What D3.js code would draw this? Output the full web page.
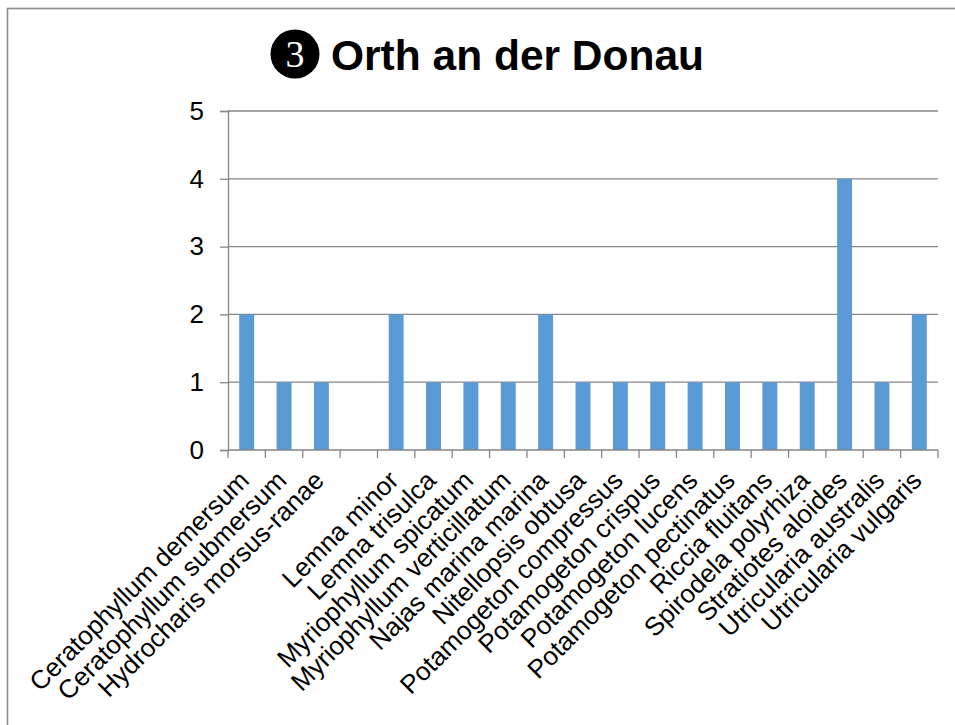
<!DOCTYPE html>
<html>
<head>
<meta charset="utf-8">
<script src="https://cdn.jsdelivr.net/npm/d3@7"></script>
<style>
  html, body { margin: 0; padding: 0; background: #fff; }
  svg { display: block; font-family: "Liberation Sans", Arial, sans-serif; }
</style>
</head>
<body>
<svg id="chart" width="955" height="725"></svg>
<script>
// Species recorded at Orth an der Donau (one empty slot keeps the gap in the series)
const species = [
  "Ceratophyllum demersum", "Ceratophyllum submersum", "Hydrocharis morsus-ranae", "",
  "Lemna minor", "Lemna trisulca", "Myriophyllum spicatum", "Myriophyllum verticillatum",
  "Najas marina marina", "Nitellopsis obtusa", "Potamogeton compressus", "Potamogeton crispus",
  "Potamogeton lucens", "Potamogeton pectinatus", "Riccia fluitans", "Spirodela polyrhiza",
  "Stratiotes aloides", "Utricularia australis", "Utricularia vulgaris"
];
const counts = [2, 1, 1, null, 2, 1, 1, 1, 2, 1, 1, 1, 1, 1, 1, 1, 4, 1, 2];
const yTicks = [0, 1, 2, 3, 4, 5];
const titleNumber = "3";
const titleText = "Orth an der Donau";

const svg = d3.select("#chart");
const plotLeft = 228, plotRight = 938, plotTop = 111, plotBottom = 450;
const gridColor = "#868686";

// outer frame
svg.append("rect")
  .attr("x", 7.5).attr("y", 8.5)
  .attr("width", 1000).attr("height", 800)
  .attr("fill", "none").attr("stroke", "#8c8c8c").attr("stroke-width", 1.6);

// one slot per species, keyed by index so the empty slot stays unique
const slots = species.map((d, i) => i);
const x = d3.scaleBand().domain(slots).range([plotLeft, plotRight]).paddingInner(0.6).paddingOuter(0.3);
const y = d3.scaleLinear().domain([0, 5]).range([plotBottom, plotTop]);

// horizontal gridlines
svg.append("g").selectAll("line").data(yTicks.filter(t => t > 0)).join("line")
  .attr("x1", plotLeft).attr("x2", plotRight)
  .attr("y1", d => y(d)).attr("y2", d => y(d))
  .attr("stroke", gridColor).attr("stroke-width", 1.3);

// y axis
const yAxis = svg.append("g").attr("transform", `translate(${plotLeft},0)`)
  .call(d3.axisLeft(y).tickValues(yTicks).tickSize(8).tickPadding(16).tickFormat(d3.format("d")));
yAxis.select(".domain").attr("stroke", gridColor).attr("stroke-width", 1.3);
yAxis.selectAll(".tick line").attr("stroke", gridColor).attr("stroke-width", 1.3);
yAxis.selectAll(".tick text").attr("font-size", 26).attr("fill", "#000")
  .attr("font-family", "'Liberation Sans', Arial, sans-serif");

// bars
svg.append("g").selectAll("rect").data(slots.filter(i => counts[i] != null)).join("rect")
  .attr("x", i => x(i))
  .attr("y", i => y(counts[i]))
  .attr("width", x.bandwidth())
  .attr("height", i => y(0) - y(counts[i]))
  .attr("fill", "#5b9bd5");

// x axis line with tick marks on slot boundaries
const step = x.step();
const boundaries = d3.range(species.length + 1).map(k => plotLeft + k * step);
svg.append("line").attr("x1", plotLeft).attr("x2", plotRight).attr("y1", plotBottom).attr("y2", plotBottom)
  .attr("stroke", gridColor).attr("stroke-width", 1.3);
svg.append("g").selectAll("line").data(boundaries).join("line")
  .attr("x1", d => d).attr("x2", d => d).attr("y1", plotBottom).attr("y2", plotBottom + 8)
  .attr("stroke", gridColor).attr("stroke-width", 1.3);

// rotated species labels
svg.append("g").selectAll("text").data(slots).join("text")
  .attr("transform", i => `translate(${x(i) + x.bandwidth() / 2 + 4},${plotBottom + 32}) rotate(-45)`)
  .attr("text-anchor", "end")
  .attr("font-size", 26)
  .attr("fill", "#000")
  .text(i => species[i]);

// title: filled circle with number, then the site name
const title = svg.append("g");
title.append("circle").attr("cx", 295).attr("cy", 54).attr("r", 24.5).attr("fill", "#000");
title.append("text").attr("x", 295).attr("y", 67).attr("text-anchor", "middle")
  .attr("font-family", "'Liberation Serif', 'Times New Roman', serif")
  .attr("font-size", 38).attr("fill", "#fff").text(titleNumber);
title.append("text").attr("x", 331).attr("y", 70)
  .attr("font-size", 42.5).attr("font-weight", "bold").attr("fill", "#000")
  .text(titleText);
</script>
</body>
</html>
